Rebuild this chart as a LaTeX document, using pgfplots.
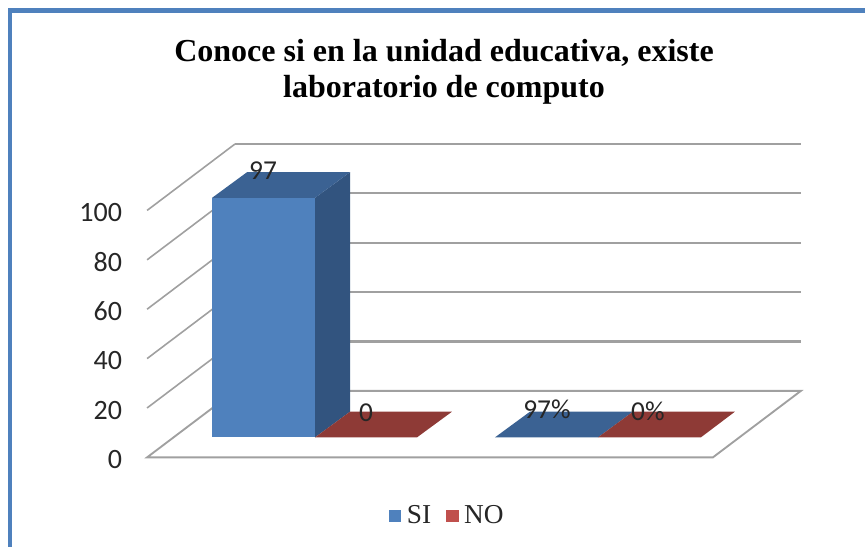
\documentclass[border=0pt]{standalone}
\usepackage{fontspec}
\setmainfont{Carlito}
\newfontfamily\timesf{Liberation Serif}
\usepackage{pgfplots}
\pgfplotsset{compat=1.18}
\definecolor{frameblue}{HTML}{4F81BD}
\definecolor{sifront}{HTML}{4F81BD}
\definecolor{siside}{HTML}{32547F}
\definecolor{sitop}{HTML}{3B6293}
\definecolor{nored}{HTML}{8E3A36}
\definecolor{nolegend}{HTML}{C0504D}
\definecolor{gridg}{HTML}{A0A0A0}
\definecolor{txt}{HTML}{262626}
\begin{document}
\begin{tikzpicture}
\begin{axis}[
  scale only axis, width=648.75pt, height=410.25pt,
  xmin=0, xmax=865, ymin=-36.23, ymax=185.22,
  clip=false,
  axis line style={draw=none},
  xtick=\empty,
  ytick={0,20,40,60,80,100},
  major tick length=0pt,
  /pgf/number format/assume math mode=true,
  yticklabel style={anchor=east, xshift=95pt, yshift=-1.6pt, font=\fontsize{21}{22}\selectfont, text=txt},
  legend columns=2,
  legend style={draw=none, fill=none, at={(447.5/865,31/547)}, anchor=center,
    font=\timesf\fontsize{20.5}{22}\selectfont, text=txt,
    /tikz/every odd column/.append style={column sep=2.25pt},
    /tikz/every even column/.append style={column sep=9pt}},
  legend image code/.code={\fill[draw=none,#1] (0cm,-4.6pt) rectangle (9.5pt,4.6pt);},
]
% walls and floor
\addplot[forget plot, gridg, line width=1.6pt] coordinates {(235,126.92)(801,126.92)};
\addplot[forget plot, gridg, line width=1.6pt] coordinates {(235,106.92)(801,106.92)};
\addplot[forget plot, gridg, line width=1.6pt] coordinates {(235,86.92)(801,86.92)};
\addplot[forget plot, gridg, line width=1.6pt] coordinates {(235,66.92)(801,66.92)};
\addplot[forget plot, gridg, line width=1.6pt] coordinates {(235,46.92)(801,46.92)};
\addplot[forget plot, gridg, line width=1.2pt] coordinates {(147,100)(235,126.92)};
\addplot[forget plot, gridg, line width=1.2pt] coordinates {(147,80)(235,106.92)};
\addplot[forget plot, gridg, line width=1.2pt] coordinates {(147,60)(235,86.92)};
\addplot[forget plot, gridg, line width=1.2pt] coordinates {(147,40)(235,66.92)};
\addplot[forget plot, gridg, line width=1.2pt] coordinates {(147,20)(235,46.92)};
\addplot[forget plot, gridg, line width=1.4pt] coordinates {(147,0)(235,26.92)(801,26.92)(713,0)(147,0)} -- cycle;
% SI bar
\addplot[forget plot, fill=sifront, draw=none] coordinates {(212,8.10)(315,8.10)(315,105.10)(212,105.10)} -- cycle;
\addplot[forget plot, fill=siside, draw=none] coordinates {(315,8.10)(350,18.50)(350,115.50)(315,105.10)} -- cycle;
\addplot[forget plot, fill=sitop, draw=none] coordinates {(212,105.10)(315,105.10)(350,115.50)(247,115.50)} -- cycle;
% NO = 0, flat
\addplot[forget plot, fill=nored, draw=none] coordinates {(315,8.10)(417,8.10)(452,18.50)(350,18.50)} -- cycle;
% second group: percent
\addplot[forget plot, fill=sitop, draw=none] coordinates {(495,8.10)(598,8.10)(633,18.50)(530,18.50)} -- cycle;
\addplot[forget plot, fill=nored, draw=none] coordinates {(598,8.10)(701,8.10)(735,18.50)(633,18.50)} -- cycle;
% legend
\addlegendimage{fill=sifront}
\addlegendentry{SI}
\addlegendimage{fill=nolegend}
\addlegendentry{NO}
% data labels
\node[text=txt, font=\fontsize{20.5}{22}\selectfont] at (axis cs:263,116.2) {97};
\node[text=txt, font=\fontsize{20.5}{22}\selectfont] at (axis cs:366,18) {0};
\node[text=txt, font=\fontsize{20.5}{22}\selectfont] at (axis cs:547,19.5) {97\%};
\node[text=txt, font=\fontsize{20.5}{22}\selectfont] at (axis cs:648,18.5) {0\%};
% title
\node[align=center, font=\timesf\bfseries\fontsize{24}{27}\selectfont, text=black] at (axis cs:444,156) {Conoce si en la unidad educativa, existe\\laboratorio de computo};
% frame
\draw[overlay, frameblue, line width=3.5pt] (axis cs:10,-36.23) -- (axis cs:10,181) -- (axis cs:865,181);
\end{axis}
\end{tikzpicture}
\end{document}
